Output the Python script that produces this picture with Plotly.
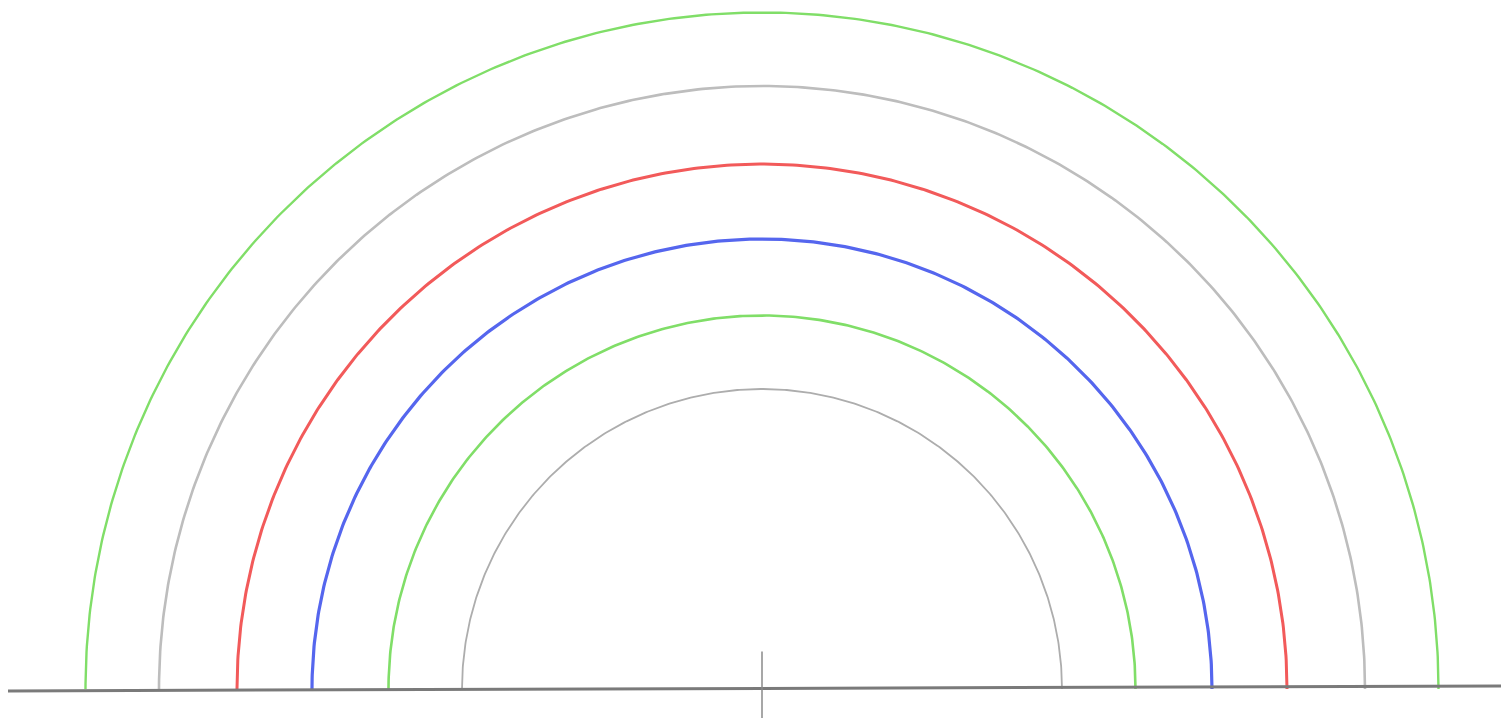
import numpy as np
import plotly.graph_objects as go

# Concentric semicircles (radius in units, inner to outer)
radii = [2.0, 2.49, 3.0, 3.5, 4.02, 4.51]
colors = ["#adadad", "#80de68", "#5566ee", "#f25a5a", "#bdbdbd", "#80de68"]
widths = [1.8, 2.6, 3.2, 3.0, 2.6, 2.4]

fig = go.Figure()
theta = np.linspace(0, np.pi, 400)
for r, c, w in zip(radii, colors, widths):
    fig.add_trace(go.Scatter(x=r * np.cos(theta), y=r * np.sin(theta), mode="lines",
                             line=dict(color=c, width=w), hoverinfo="skip", showlegend=False))

# Baseline and centre tick
base_x = [-5.03, 5.1]
base_y = [-0.013, 0.021]
fig.add_trace(go.Scatter(x=base_x, y=base_y, mode="lines",
                         line=dict(color="#7a7a7a", width=3), hoverinfo="skip", showlegend=False))
tick_x = [0, 0]
tick_y = [0.25, -0.2]
fig.add_trace(go.Scatter(x=tick_x, y=tick_y, mode="lines",
                         line=dict(color="#8a8a8a", width=1.5), hoverinfo="skip", showlegend=False))

# Page body has an 8px margin; shift ranges so centre lands at (762, 689) on screen
fig.update_layout(width=1509, height=718, margin=dict(l=0, r=0, t=0, b=0),
                  paper_bgcolor="white", plot_bgcolor="white")
fig.update_xaxes(range=[-754/150, 755/150], visible=False, fixedrange=True)
fig.update_yaxes(range=[-37/150, 681/150], visible=False, fixedrange=True)
fig.write_html("out.html")
